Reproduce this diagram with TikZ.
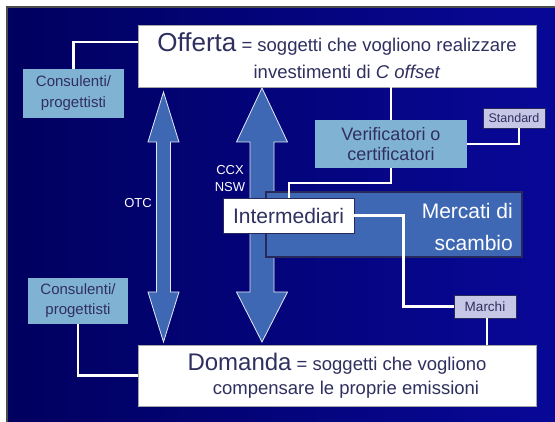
\documentclass[tikz,border=0pt]{standalone}
\usepackage{fontspec}
\setmainfont{Liberation Sans}
\usepackage{tikz}

\definecolor{fondosx}{RGB}{0,0,95}
\definecolor{fondodx}{RGB}{8,8,152}
\definecolor{testo}{RGB}{48,48,96}
\definecolor{azzurro}{RGB}{128,178,212}
\definecolor{lilla}{RGB}{198,198,230}
\definecolor{blu}{RGB}{63,104,180}
\definecolor{bordoscuro}{RGB}{40,40,90}

\tikzset{
  biancobox/.style={draw=gray!70, fill=white, text=testo, inner sep=0pt, align=center},
  azzurrobox/.style={fill=azzurro, text=testo, inner sep=0pt, align=center},
  lillabox/.style={draw=bordoscuro, fill=lilla, text=testo, inner sep=0pt, align=center},
  linea/.style={draw=white, line width=2.5pt},
  freccia/.style={fill=blu, draw=white!85!blu, line width=0.8pt},
  etichetta/.style={text=white, inner sep=0pt, align=center}
}

\begin{document}
\begin{tikzpicture}[x=1pt,y=-1pt]
		\useasboundingbox (0,0) rectangle (555,422);
		% sfondo
		\fill[white] (0,0) rectangle (555,422);
		\shade[left color=fondosx, right color=fondodx] (7,7) rectangle (555,422);
		\draw[gray!60!black, line width=1.5pt] (7,422) -- (7,7) -- (555,7);

		% frecce
		\filldraw[freccia] (163.5,92) -- (179,142) -- (170.5,142) -- (170.5,292) -- (179,292) -- (163.5,342)
			-- (148,292) -- (156.5,292) -- (156.5,142) -- (148,142) -- cycle;
		\filldraw[freccia] (262,88) -- (287.5,142) -- (274,142) -- (274,292) -- (287.5,292) -- (262,342)
			-- (236.5,292) -- (250,292) -- (250,142) -- (236.5,142) -- cycle;
		\node[etichetta, font=\fontsize{13}{17}\selectfont] (otc) at (138,203) {OTC};
		\node[etichetta, font=\fontsize{13}{17}\selectfont] (ccx) at (230,178.5) {CCX\\NSW};

		% riquadri
		\node[biancobox, minimum width=398pt, minimum height=62pt, font=\fontsize{18.5}{31}\selectfont] (offerta) at (337,56)
			{{\fontsize{26}{31}\selectfont Offerta} = soggetti che vogliono realizzare\\[-4pt]\hspace*{20pt}investimenti di \textit{C offset}};
		\node[biancobox, minimum width=398pt, minimum height=61pt, font=\fontsize{18.5}{24}\selectfont] (domanda) at (337,375.5)
			{{\fontsize{24}{24}\selectfont Domanda} = soggetti che vogliono\\\hspace*{18pt}compensare le proprie emissioni};
		\node[azzurrobox, minimum width=101pt, minimum height=49pt, font=\fontsize{15}{21}\selectfont] (cons1) at (73.5,93.5) {Consulenti/\\progettisti};
		\node[azzurrobox, minimum width=100pt, minimum height=46pt, font=\fontsize{15}{20}\selectfont] (cons2) at (78,301) {Consulenti/\\progettisti};
		\node[lillabox, minimum width=62pt, minimum height=20pt, font=\fontsize{12.5}{15}\selectfont] (standard) at (514,118) {Standard};
		\node[azzurrobox, minimum width=152pt, minimum height=48pt, font=\fontsize{18}{20}\selectfont] (verif) at (391,144) {Verificatori o\\certificatori};
		\node[draw=bordoscuro, fill=blu, line width=1.5pt, minimum width=256pt, minimum height=65pt] (mercati) at (393.75,224.5) {};
		\node[text=white, anchor=east, align=right, inner sep=0pt, font=\fontsize{21}{32}\selectfont] (mercatitesto) at (513,227) {Mercati di\\scambio};
		\node[lillabox, minimum width=62pt, minimum height=23pt, font=\fontsize{13.5}{16}\selectfont] (marchi) at (485,306.5) {Marchi};

		% collegamenti
		\draw[linea] (cons1.north) |- ([yshift=14pt]offerta.west);
		\draw[linea] (cons2.south) |- (domanda.west);
		\draw[draw=white, line width=1.5pt] (offerta.south -| verif.north) -- (verif.north);
		\draw[linea] ([xshift=5pt]standard.south) |- (verif.east);
		\draw[draw=white, line width=2pt] (verif.south) -- ++(0,15) -| (288.5,198);
		\node[biancobox, minimum width=131pt, minimum height=35pt, draw=bordoscuro, font=\fontsize{21}{24}\selectfont] (inter) at (288.5,215.5) {Intermediari};
		\draw[linea] (inter.east) -- ++(49.5,0) |- (marchi.west);
		\draw[linea] ([xshift=2pt]marchi.south) -- ([xshift=2pt]marchi.south |- domanda.north);

\end{tikzpicture}
\end{document}
